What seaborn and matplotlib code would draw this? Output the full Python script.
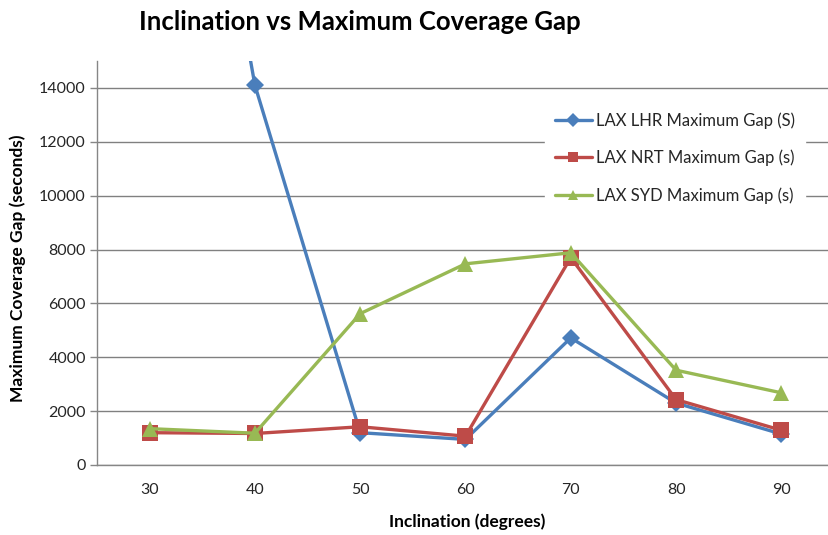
import numpy as np
import pandas as pd
import matplotlib
matplotlib.use("Agg")
import matplotlib.pyplot as plt
import seaborn as sns

inclinations = ["30", "40", "50", "60", "70", "80", "90"]
lhr_gap = [36000, 14100, 1200, 950, 4720, 2300, 1150]
nrt_gap = [1200, 1170, 1420, 1070, 7700, 2430, 1290]
syd_gap = [1350, 1180, 5620, 7470, 7880, 3520, 2680]
series_names = ["LAX LHR Maximum Gap (S)", "LAX NRT Maximum Gap (s)", "LAX SYD Maximum Gap (s)"]
y_ticks = [0, 2000, 4000, 6000, 8000, 10000, 12000, 14000]

sns.set_theme(style="white")
plt.rcParams["font.family"] = ["Lato", "DejaVu Sans"]

rows = []
for name, vals in zip(series_names, [lhr_gap, nrt_gap, syd_gap]):
    for i, v in enumerate(vals):
        rows.append({"pos": i, "value": v, "series": name})
df = pd.DataFrame(rows)

W, H = 829, 535
fig = plt.figure(figsize=(W / 100, H / 100), dpi=100)
left, right, top, bottom = 97, 834, 61, 465
ax = fig.add_axes([left / W, 1 - bottom / H, (right - left) / W, (bottom - top) / H])

colors = ["#4A7EBB", "#BE4B48", "#98B954"]
sns.lineplot(data=df, x="pos", y="value", hue="series", style="series",
             hue_order=series_names, style_order=series_names,
             palette=colors, markers=["D", "s", "^"], dashes=False,
             linewidth=2.4, markersize=10, markeredgewidth=0, ax=ax)

msizes = [9.5, 11, 11.5]
for line, ms in zip(ax.get_lines()[:3], msizes):
    line.set_markersize(ms)

ax.set_xlim(-0.5, 6.5)
ax.set_ylim(0, 15000)
ax.set_yticks(y_ticks)
ax.set_yticklabels([str(t) for t in y_ticks], fontsize=11.5, color="#262626")
ax.set_xticks(range(len(inclinations)))
ax.set_xticklabels(inclinations, fontsize=11.5, color="#262626")
ax.set_xticks(np.arange(-0.5, 7, 1), minor=True)
ax.tick_params(axis="x", which="major", length=0, pad=13)
ax.tick_params(axis="x", which="minor", length=5, color="#868686", width=1, direction="out")
ax.tick_params(axis="y", which="major", length=5, color="#868686", width=1, direction="out", left=True, pad=3)
ax.grid(axis="y", color="#808080", linewidth=1)
ax.grid(axis="x", visible=False)
for s in ["top", "right"]:
    ax.spines[s].set_visible(False)
for s in ["left", "bottom"]:
    ax.spines[s].set_color("#868686")
    ax.spines[s].set_linewidth(1)
ax.set_xlabel("")
ax.set_ylabel("")

fig.text(360 / W, 1 - 22 / H, "Inclination vs Maximum Coverage Gap", ha="center", va="center",
         fontsize=18.5, fontweight="bold", color="black")
fig.text(467 / W, 1 - 522 / H, "Inclination (degrees)", ha="center", va="center",
         fontsize=12.5, fontweight="bold", color="black")
fig.text(18 / W, 1 - 268 / H, "Maximum Coverage Gap (seconds)", ha="center", va="center",
         rotation=90, fontsize=12.5, fontweight="bold", color="black")

leg = ax.legend(loc="center left", bbox_to_anchor=(545 / W, 1 - 158 / H),
                bbox_transform=fig.transFigure, frameon=True, fontsize=12,
                handlelength=2.2, handletextpad=0.25, labelspacing=1.25,
                borderpad=0.6, borderaxespad=0)
leg.get_frame().set_facecolor("white")
leg.get_frame().set_edgecolor("white")
leg.get_frame().set_alpha(1)
for t in leg.get_texts():
    t.set_color("#262626")
for h in leg.legend_handles:
    h.set_markersize(7)

fig.savefig("out.png", dpi=100)
